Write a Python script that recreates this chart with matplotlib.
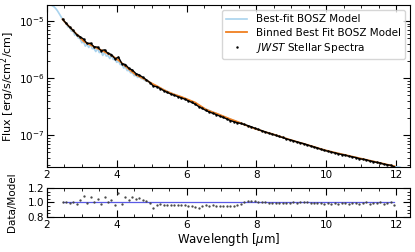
import numpy as np
import matplotlib
matplotlib.use("Agg")
import matplotlib.pyplot as plt
from matplotlib.ticker import MultipleLocator, LogLocator, NullFormatter
from matplotlib.lines import Line2D

# ---------------- data ----------------
wave = [2.45, 2.55, 2.65, 2.75, 2.85, 2.95, 3.05, 3.15, 3.25, 3.35,
        3.45, 3.55, 3.65, 3.75, 3.85, 3.95, 4.05, 4.15, 4.25, 4.35,
        4.45, 4.55, 4.65, 4.75, 4.85, 4.95, 5.05, 5.15, 5.25, 5.35,
        5.45, 5.55, 5.65, 5.75, 5.85, 5.95, 6.05, 6.15, 6.25, 6.35,
        6.45, 6.55, 6.65, 6.75, 6.85, 6.95, 7.05, 7.15, 7.25, 7.35,
        7.45, 7.55, 7.65, 7.75, 7.85, 7.95, 8.05, 8.15, 8.25, 8.35,
        8.45, 8.55, 8.65, 8.75, 8.85, 8.95, 9.05, 9.15, 9.25, 9.35,
        9.45, 9.55, 9.65, 9.75, 9.85, 9.95, 10.05, 10.15, 10.25, 10.35,
        10.45, 10.55, 10.65, 10.75, 10.85, 10.95, 11.05, 11.15, 11.25, 11.35,
        11.45, 11.55, 11.65, 11.75, 11.85, 11.95]

# binned best-fit model, log10 flux [erg/s/cm^2/cm]
binned_log10_flux = [-4.97, -5.045, -5.105, -5.17, -5.23, -5.29, -5.355, -5.39, -5.42, -5.452,
                     -5.48, -5.51, -5.54, -5.572, -5.605, -5.645, -5.688, -5.74, -5.793, -5.845,
                     -5.895, -5.943, -5.975, -6.005, -6.04, -6.075, -6.11, -6.14, -6.175, -6.21,
                     -6.24, -6.265, -6.29, -6.31, -6.33, -6.355, -6.38, -6.405, -6.43, -6.47,
                     -6.51, -6.55, -6.575, -6.6, -6.62, -6.645, -6.67, -6.695, -6.72, -6.742,
                     -6.765, -6.79, -6.815, -6.84, -6.862, -6.885, -6.905, -6.925, -6.945, -6.963,
                     -6.98, -7.0, -7.02, -7.04, -7.06, -7.08, -7.098, -7.116, -7.134, -7.152,
                     -7.17, -7.188, -7.206, -7.225, -7.245, -7.262, -7.278, -7.293, -7.308, -7.322,
                     -7.336, -7.35, -7.364, -7.378, -7.392, -7.406, -7.42, -7.434, -7.448, -7.462,
                     -7.476, -7.49, -7.504, -7.518, -7.532, -7.545]

# data / model ratio
ratio = [1.00, 1.01, 0.99, 1.01, 0.98, 1.03, 1.09, 0.99, 1.07, 1.00,
         1.05, 0.98, 1.08, 1.01, 1.04, 0.96, 1.13, 0.98, 1.07, 1.03,
         1.08, 1.05, 1.06, 1.04, 1.02, 0.99, 0.93, 0.97, 0.975, 0.97,
         0.97, 0.965, 0.97, 0.965, 0.96, 0.965, 0.955, 0.95, 0.935, 0.93,
         0.95, 0.96, 0.955, 0.96, 0.955, 0.95, 0.955, 0.95, 0.945, 0.95,
         0.96, 0.985, 1.005, 1.015, 1.02, 1.015, 1.01, 1.005, 1.0, 0.995,
         0.99, 0.995, 0.99, 0.995, 0.99, 0.995, 1.0, 0.995, 1.0, 1.005,
         1.0, 0.995, 0.99, 0.995, 0.99, 0.985, 0.99, 0.985, 0.99, 0.985,
         0.99, 0.995, 0.985, 0.99, 0.995, 0.985, 0.99, 1.0, 0.985, 0.995,
         0.99, 1.0, 0.985, 0.995, 1.005, 0.97]

# high-resolution best-fit model
model_wave = [2.0, 2.05, 2.1, 2.15, 2.2, 2.25, 2.3, 2.35, 2.4, 2.45,
              2.5, 2.55, 2.6, 2.65, 2.7, 2.75, 2.8, 2.85, 2.9, 2.95,
              3.0, 3.05, 3.1, 3.15, 3.2, 3.25, 3.3, 3.35, 3.4, 3.45,
              3.5, 3.55, 3.6, 3.65, 3.7, 3.75, 3.8, 3.85, 3.9, 3.95,
              4.0, 4.05, 4.1, 4.15, 4.2, 4.25, 4.3, 4.35, 4.4, 4.45,
              4.5, 4.55, 4.6, 4.65, 4.7, 4.75, 4.8, 4.85, 4.9, 4.95,
              5.0, 5.5, 6.0, 6.5, 7.0, 7.5, 8.0, 8.5, 9.0, 9.5,
              10.0, 10.5, 11.0, 11.5, 12.0, 12.1, 12.2, 12.3, 12.4]
model_log10_flux = [-4.70, -4.71, -4.72, -4.73, -4.75, -4.78, -4.82, -4.87, -4.92, -4.97,
                    -5.018, -5.035, -5.105, -5.105, -5.178, -5.18, -5.25, -5.22, -5.30, -5.31,
                    -5.382, -5.365, -5.442, -5.41, -5.465, -5.41, -5.486, -5.482, -5.536, -5.48,
                    -5.555, -5.53, -5.605, -5.55, -5.616, -5.602, -5.658, -5.605, -5.675, -5.665,
                    -5.726, -5.698, -5.764, -5.76, -5.826, -5.803, -5.87, -5.865, -5.91, -5.905,
                    -5.96, -5.953, -5.99, -5.975, -6.01, -6.015, -6.042, -6.04, -6.068, -6.075,
                    -6.102, -6.25, -6.37, -6.53, -6.66, -6.78, -6.895, -6.99, -7.09, -7.18,
                    -7.27, -7.343, -7.413, -7.483, -7.555, -7.56, -7.585, -7.58, -7.61]

binned_flux = 10.0 ** np.array(binned_log10_flux)
jwst_flux = binned_flux * np.array(ratio)
model_flux = 10.0 ** np.array(model_log10_flux)

# ---------------- figure ----------------
fig = plt.figure(figsize=(4.15, 2.52), dpi=100)
ax = fig.add_axes([0.113, 0.337, 0.875, 0.643])
axr = fig.add_axes([0.113, 0.139, 0.875, 0.115])

ax.plot(model_wave, model_flux, color="#a9d3ee", lw=1.2, label="Best-fit BOSZ Model")
ax.plot(wave, binned_flux, color="#f07f20", lw=1.3, label="Binned Best Fit BOSZ Model")
ax.plot(wave, jwst_flux, color="k", lw=1.0)
ax.plot(wave, jwst_flux, ls="none", marker=".", ms=1.5, color="k")
ax.set_yscale("log")
ax.set_xlim(2, 12.4)
ax.set_ylim(2.75e-8, 1.9e-5)
ax.set_ylabel("Flux [erg/s/cm$^2$/cm]", fontsize=8)
ax.yaxis.set_label_coords(-0.083, 0.5)

handles = [Line2D([], [], color="#a9d3ee", lw=1.2),
           Line2D([], [], color="#f07f20", lw=1.3),
           Line2D([], [], ls="none", marker=".", ms=1.5, color="k")]
labels = ["Best-fit BOSZ Model", "Binned Best Fit BOSZ Model", "$JWST$ Stellar Spectra"]
ax.legend(handles, labels, loc="upper right", fontsize=7.5, framealpha=0.8,
          handlelength=2.0, borderpad=0.4, labelspacing=0.3)

axr.plot([wave[0], wave[-1]], [1.0, 1.0], color="#5a5ae6", lw=0.9)
axr.plot(wave, ratio, ls="none", marker=".", ms=1.3, color="#444444")
axr.set_xlim(2, 12.4)
axr.set_ylim(0.8, 1.2)
axr.set_ylabel("Data/Model", fontsize=7.5)
axr.yaxis.set_label_coords(-0.083, 0.5)
axr.set_xlabel("Wavelength [$\\mu$m]", fontsize=8.5, labelpad=1)
axr.yaxis.set_major_locator(MultipleLocator(0.2))
axr.yaxis.set_minor_locator(MultipleLocator(0.05))

for a in (ax, axr):
    a.xaxis.set_major_locator(MultipleLocator(2))
    a.xaxis.set_minor_locator(MultipleLocator(0.5))
    a.tick_params(which="both", direction="in", top=True, right=True, labelsize=7.5, pad=2)
    a.tick_params(which="major", length=5, width=0.8)
    a.tick_params(which="minor", length=2.5, width=0.6)
    for s in a.spines.values():
        s.set_linewidth(0.8)

ax.yaxis.set_minor_locator(LogLocator(base=10, subs=np.arange(2, 10) * 1.0, numticks=20))
ax.yaxis.set_minor_formatter(NullFormatter())

fig.savefig("out.png", dpi=100)
